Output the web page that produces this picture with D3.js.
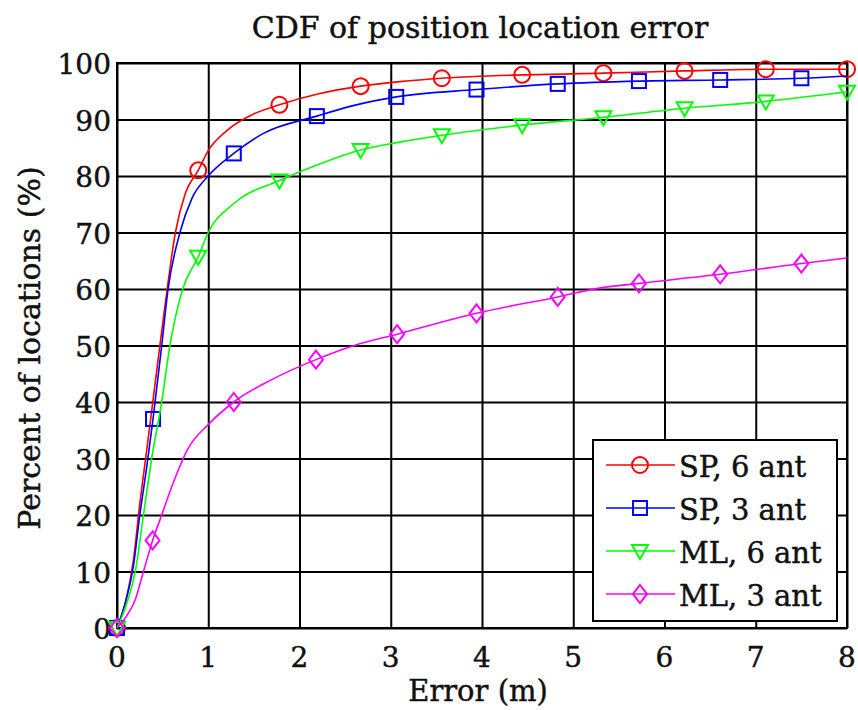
<!doctype html>
<html>
<head>
  <style>
    body { margin: 0; background: #fff; }
    text { font-family: "DejaVu Serif", serif; fill: #111; stroke: #111; stroke-width: 0.45px; }
  </style>
  <script src="https://d3js.org/d3.v7.min.js"></script>
</head>
<body>
<div id="chart"></div>
<script>

// curve points
var sp6X = [0, 0.1, 0.18, 0.25, 0.33, 0.4, 0.47, 0.55, 0.64, 0.75, 0.89, 1.0, 1.2, 1.5, 1.78, 2.2, 2.67, 3.1, 3.56, 4.44, 5.33, 6.22, 7.11, 8];
var sp6Y = [0, 5, 12, 22, 32, 41, 50, 60, 70, 77, 81, 84.5, 88, 91, 92.6, 94.5, 95.9, 96.7, 97.3, 97.9, 98.2, 98.6, 98.9, 98.9];
var sp6Marks = [0, 10, 14, 16, 18, 19, 20, 21, 22, 23];

var sp3X = [0, 0.1, 0.18, 0.25, 0.33, 0.395, 0.49, 0.56, 0.69, 0.82, 1.0, 1.28, 1.6, 2.19, 2.6, 3.06, 3.94, 4.83, 5.72, 6.61, 7.5, 8];
var sp3Y = [0, 5, 11, 20, 29, 37, 50, 60, 70, 76, 80, 84, 87.5, 90.6, 92.5, 94.0, 95.3, 96.3, 96.8, 97, 97.3, 97.7];
var sp3Marks = [0, 5, 11, 13, 15, 16, 17, 18, 19, 20];

var ml6X = [0, 0.1, 0.2, 0.29, 0.38, 0.49, 0.58, 0.72, 0.89, 1.0, 1.27, 1.78, 2.2, 2.67, 3.1, 3.56, 4.44, 5.33, 6.22, 7.11, 8];
var ml6Y = [0, 4, 10, 20, 30, 40, 50, 60, 65.7, 70, 75, 79.2, 82, 84.6, 86, 87.2, 89, 90.4, 92, 93.2, 94.9];
var ml6Marks = [0, 8, 11, 13, 15, 16, 17, 18, 19, 20];

var ml3X = [0, 0.1, 0.2, 0.29, 0.39, 0.49, 0.6, 0.78, 1.0, 1.28, 1.7, 2.18, 2.6, 3.07, 3.94, 4.83, 5.3, 5.72, 6.61, 7.5, 8];
var ml3Y = [0, 2, 5, 10, 15.5, 20, 25, 31.8, 36, 40, 44, 47.5, 50, 52, 55.7, 58.6, 60.2, 61, 62.6, 64.5, 65.5];
var ml3Marks = [0, 4, 9, 11, 13, 14, 15, 17, 18, 19];

var seriesNames = ["SP, 6 ant", "SP, 3 ant", "ML, 6 ant", "ML, 3 ant"];
var seriesColors = ["#ff0000", "#0000ff", "#00ff00", "#ff00ff"];
var seriesMarkers = ["circle", "square", "triangle", "diamond"];

var xTicks = [0, 1, 2, 3, 4, 5, 6, 7, 8];
var yTicks = [0, 10, 20, 30, 40, 50, 60, 70, 80, 90, 100];

var series = [
  {name: seriesNames[0], color: seriesColors[0], marker: seriesMarkers[0], xs: sp6X, ys: sp6Y, marks: sp6Marks},
  {name: seriesNames[1], color: seriesColors[1], marker: seriesMarkers[1], xs: sp3X, ys: sp3Y, marks: sp3Marks},
  {name: seriesNames[2], color: seriesColors[2], marker: seriesMarkers[2], xs: ml6X, ys: ml6Y, marks: ml6Marks},
  {name: seriesNames[3], color: seriesColors[3], marker: seriesMarkers[3], xs: ml3X, ys: ml3Y, marks: ml3Marks}
];

var W = 858, H = 710;
var margin = {top: 63, right: 11, bottom: 82, left: 117};
var width = W - margin.left - margin.right,
    height = H - margin.top - margin.bottom;

var svg = d3.select("#chart").append("svg")
    .attr("width", W).attr("height", H);

var g = svg.append("g")
    .attr("transform", "translate(" + margin.left + "," + margin.top + ")");

var x = d3.scaleLinear().domain([0, 8]).range([0, width]);
var y = d3.scaleLinear().domain([0, 100]).range([height, 0]);

// grid
g.append("g")
  .call(d3.axisBottom(x).tickValues(xTicks).tickSize(height).tickFormat(""))
  .call(function(s) { s.select(".domain").remove(); })
  .selectAll("line").attr("stroke", "#000").attr("stroke-width", 2);
g.append("g")
  .call(d3.axisLeft(y).tickValues(yTicks).tickSize(-width).tickFormat(""))
  .call(function(s) { s.select(".domain").remove(); })
  .selectAll("line").attr("stroke", "#000").attr("stroke-width", 2);

// frame
g.append("rect").attr("width", width).attr("height", height)
  .attr("fill", "none").attr("stroke", "#000").attr("stroke-width", 2);

// tick labels
g.selectAll(".xl").data(xTicks).enter().append("text")
  .attr("x", function(d) { return x(d); })
  .attr("y", height + 39)
  .attr("text-anchor", "middle")
  .style("font-size", "28px")
  .text(function(d) { return d; });

g.selectAll(".yl").data(yTicks).enter().append("text")
  .attr("x", -6)
  .attr("y", function(d) { return y(d) + 11; })
  .attr("text-anchor", "end")
  .style("font-size", "28px")
  .text(function(d) { return d; });

var line = d3.line().curve(d3.curveMonotoneX)
  .x(function(d) { return x(d[0]); })
  .y(function(d) { return y(d[1]); });

function drawMarker(sel, type, color) {
  if (type == "circle") {
    sel.append("circle").attr("r", 8);
  } else if (type == "square") {
    sel.append("rect").attr("x", -7).attr("y", -7).attr("width", 14).attr("height", 14);
  } else if (type == "triangle") {
    sel.append("path").attr("d", "M-8,-6L8,-6L0,8Z");
  } else {
    sel.append("path").attr("d", "M0,-9L7,0L0,9L-7,0Z");
  }
  sel.selectAll("*").attr("fill", "none").attr("stroke", color).attr("stroke-width", 2);
}

series.forEach(function(s) {
  var pts = s.xs.map(function(v, i) { return [v, s.ys[i]]; });
  g.append("path").datum(pts)
    .attr("d", line)
    .attr("fill", "none")
    .attr("stroke", s.color)
    .attr("stroke-width", 1.6);
  s.marks.forEach(function(i) {
    var m = g.append("g").attr("transform", "translate(" + x(s.xs[i]) + "," + y(s.ys[i]) + ")");
    drawMarker(m, s.marker, s.color);
  });
});

// legend
var leg = svg.append("g").attr("transform", "translate(593,440)");
leg.append("rect").attr("width", 244).attr("height", 181)
  .attr("fill", "#fff").attr("stroke", "#000").attr("stroke-width", 2);
series.forEach(function(s, i) {
  var yy = 25 + i * 43;
  leg.append("line").attr("x1", 13).attr("x2", 82).attr("y1", yy).attr("y2", yy)
    .attr("stroke", s.color).attr("stroke-width", 1.6);
  var m = leg.append("g").attr("transform", "translate(47," + yy + ")");
  drawMarker(m, s.marker, s.color);
  leg.append("text").attr("x", 86).attr("y", yy + 12)
    .style("font-size", "29px")
    .text(s.name);
});

// titles
svg.append("text").attr("x", 480).attr("y", 38)
  .attr("text-anchor", "middle").style("font-size", "30px")
  .text("CDF of position location error");
svg.append("text").attr("x", 478).attr("y", 701)
  .attr("text-anchor", "middle").style("font-size", "29px")
  .text("Error (m)");
svg.append("text")
  .attr("transform", "translate(40,348) rotate(-90)")
  .attr("text-anchor", "middle").style("font-size", "30px")
  .text("Percent of locations (%)");

</script>
</body>
</html>
